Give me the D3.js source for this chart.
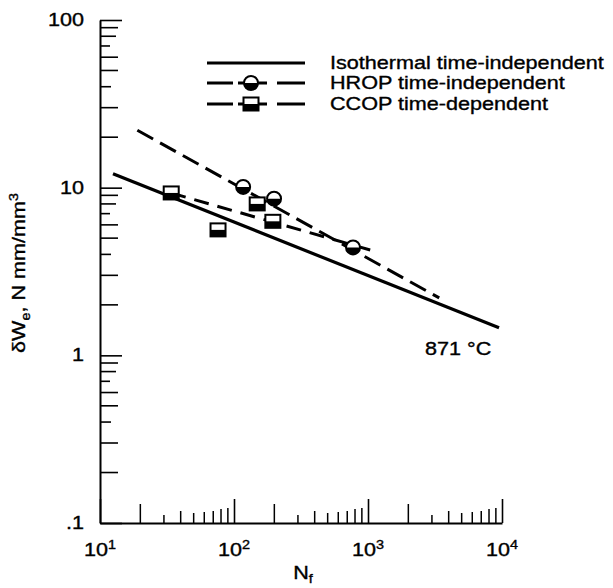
<!DOCTYPE html>
<html>
<head>
<meta charset="utf-8">
<script src="https://cdn.jsdelivr.net/npm/d3@7/dist/d3.min.js"></script>
<style>
  body { margin: 0; background: #fff; }
  text { font-family: "Liberation Sans", Arial, Helvetica, sans-serif; fill: #000; stroke: #000; stroke-width: 0.35px; }
</style>
</head>
<body>
<div id="chart"></div>
<script>
// values (Nf, delta We)
let isoN = [12.5, 9500];
let isoW = [12.1, 1.46];

let hropFitN = [19, 3400];
let hropFitW = [22, 2.2];
let hropN = [117, 199, 773];
let hropW = [10.1, 8.6, 4.4];

let ccopFitN = [34, 1090];
let ccopFitW = [9.3, 4.2];
let ccopN = [34, 76, 149, 195];
let ccopW = [9.3, 5.6, 8.0, 6.3];

let xMajor = [10, 100, 1000, 10000];
let xExp = ['1', '2', '3', '4'];
let yMajor = [100, 10, 1, 0.1];
let yTickLabels = ['100', '10', '1', '.1'];

let legendNames = ['Isothermal time-independent', 'HROP time-independent', 'CCOP time-dependent'];

let width = 613, height = 588;
let svg = d3.select('#chart').append('svg')
    .attr('width', width)
    .attr('height', height);

let x = d3.scaleLog().domain([10, 10000]).range([100, 502]);
let y = d3.scaleLog().domain([0.1, 100]).range([523, 20]);

let stretch = 1.2;
let fs = 18;

// wide, scanned-looking text
function label(g, tx, ty, s, anchor, size) {
    return g.append('text')
        .attr('transform', `translate(${tx},${ty}) scale(${stretch},1)`)
        .attr('text-anchor', anchor || 'start')
        .style('font-size', (size || fs) + 'px')
        .text(s);
}

// minor tick values
let minors = [];
[10, 100, 1000].forEach(d => {
    for (let m = 2; m <= 9; m++) minors.push({v: d * m, m: m});
});
let minorsY = [];
[0.1, 1, 10].forEach(d => {
    for (let m = 2; m <= 9; m++) minorsY.push({v: d * m, m: m});
});
let xMinorLen = {2: 19, 3: 8, 4: 12, 5: 10, 6: 11, 7: 12, 8: 14, 9: 15};
let yMinorLen = {2: 18, 3: 18, 4: 11, 5: 18, 6: 18, 7: 10, 8: 16, 9: 18};

// axes
let yAxis = svg.append('g')
    .attr('transform', `translate(${x(10)},0)`)
    .call(d3.axisLeft(y).tickValues(yMajor).tickSizeInner(-22).tickSizeOuter(0).tickFormat(''));
let xAxis = svg.append('g')
    .attr('transform', `translate(0,${y(0.1)})`)
    .call(d3.axisBottom(x).tickValues(xMajor).tickSizeInner(-24).tickSizeOuter(0).tickFormat(''));
svg.selectAll('.domain').attr('stroke', '#000').attr('stroke-width', 2);
svg.selectAll('.tick line').attr('stroke', '#000').attr('stroke-width', 1.6);

svg.append('g').selectAll('line')
    .data(minors)
    .enter().append('line')
    .attr('x1', d => x(d.v)).attr('x2', d => x(d.v))
    .attr('y1', y(0.1)).attr('y2', d => y(0.1) - xMinorLen[d.m])
    .attr('stroke', '#000').attr('stroke-width', 1.5);

svg.append('g').selectAll('line')
    .data(minorsY)
    .enter().append('line')
    .attr('x1', x(10)).attr('x2', d => x(10) + yMinorLen[d.m])
    .attr('y1', d => y(d.v)).attr('y2', d => y(d.v))
    .attr('stroke', '#000').attr('stroke-width', 1.6);

// tick labels
yMajor.forEach((v, i) => {
    label(svg, 84, y(v) + 6, yTickLabels[i], 'end');
});
xMajor.forEach((v, i) => {
    let t = label(svg, x(v), 556, '', 'middle');
    t.append('tspan').text('10');
    t.append('tspan').attr('dy', -7).style('font-size', '12px').text(xExp[i]);
});

// axis titles
let nf = label(svg, 303, 579, '', 'middle');
nf.append('tspan').text('N');
nf.append('tspan').attr('dy', 4).style('font-size', '12px').text('f');

let yl = svg.append('text')
    .attr('transform', `translate(25,273) rotate(-90) scale(${stretch},1)`)
    .attr('text-anchor', 'middle')
    .style('font-size', fs + 'px');
yl.append('tspan').text('\u03b4W');
yl.append('tspan').attr('dy', 5).style('font-size', '12px').text('e');
yl.append('tspan').attr('dy', -5).text(', N mm/mm');
yl.append('tspan').attr('dy', -7).style('font-size', '12px').text('3');

label(svg, 425, 355, '871 \u00b0C', 'start');

// lines
let line = d3.line().x(d => x(d[0])).y(d => y(d[1]));

svg.append('path')
    .datum(d3.zip(isoN, isoW))
    .attr('d', line)
    .attr('fill', 'none').attr('stroke', '#000').attr('stroke-width', 3.2);

svg.append('path')
    .datum(d3.zip(hropFitN, hropFitW))
    .attr('d', line)
    .attr('fill', 'none').attr('stroke', '#000').attr('stroke-width', 3)
    .attr('stroke-dasharray', '18,8');

svg.append('path')
    .datum(d3.zip(ccopFitN, ccopFitW))
    .attr('d', line)
    .attr('fill', 'none').attr('stroke', '#000').attr('stroke-width', 3)
    .attr('stroke-dasharray', '15,9');

// half filled markers
function circleMark(g, cx, cy) {
    let r = 7;
    let m = g.append('g').attr('transform', `translate(${cx},${cy})`);
    m.append('circle').attr('r', r).attr('fill', '#fff').attr('stroke', '#000').attr('stroke-width', 2);
    m.append('path').attr('d', `M${-r},0 A${r},${r} 0 0 0 ${r},0 Z`).attr('fill', '#000');
}
function squareMark(g, cx, cy) {
    let w = 15, h = 13;
    let m = g.append('g').attr('transform', `translate(${cx},${cy})`);
    m.append('rect').attr('x', -w / 2).attr('y', -h / 2).attr('width', w).attr('height', h)
        .attr('fill', '#fff').attr('stroke', '#000').attr('stroke-width', 2);
    m.append('rect').attr('x', -w / 2).attr('y', 0).attr('width', w).attr('height', h / 2)
        .attr('fill', '#000');
}

let marks = svg.append('g');
d3.zip(ccopN, ccopW).forEach(d => squareMark(marks, x(d[0]), y(d[1])));
d3.zip(hropN, hropW).forEach(d => circleMark(marks, x(d[0]), y(d[1])));

// legend
let legend = svg.append('g');
let rowY = [63, 83, 104];
legendNames.forEach((name, i) => {
    let ln = legend.append('line')
        .attr('x1', 207).attr('x2', 305)
        .attr('y1', rowY[i]).attr('y2', rowY[i])
        .attr('stroke', '#000').attr('stroke-width', 3);
    if (i > 0) ln.attr('stroke-dasharray', '26,5,29,10,28');
    if (i === 1) circleMark(legend, 251, rowY[i]);
    if (i === 2) squareMark(legend, 251, rowY[i]);
    label(legend, 330, rowY[i] + 6, name, 'start');
});
</script>
</body>
</html>
